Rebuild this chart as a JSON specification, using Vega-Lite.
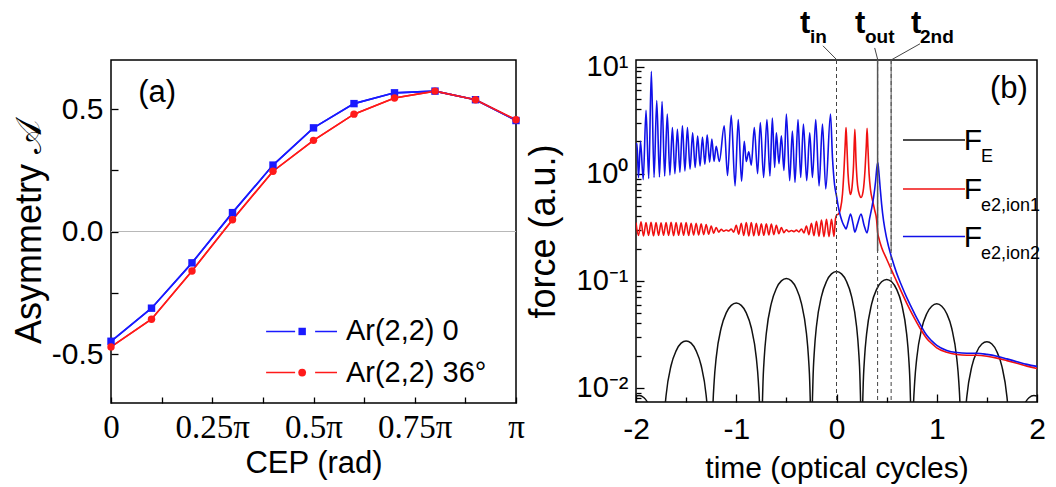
{
"$schema": "https://vega.github.io/schema/vega-lite/v6.json",
"background": "white",
"padding": {"left": 10, "top": 7, "right": 10, "bottom": 5},
"bounds": "flush",
"spacing": 120,
"config": {
  "font": "Liberation Sans",
  "view": {"stroke": "black", "strokeWidth": 1.5},
  "axis": {"grid": false, "domain": false, "tickColor": "black", "tickWidth": 1.3, "labelColor": "black", "titleColor": "black", "labelFont": "Liberation Sans", "titleFont": "Liberation Sans", "titleFontWeight": "normal", "labelOverlap": false, "labelFlush": false, "labelBound": false},
  "text": {"font": "Liberation Sans", "color": "black"}
},
"datasets": {
  "a": [
    {"cep": 0, "asym": -0.448, "s": "0"}, {"cep": 0.1, "asym": -0.313, "s": "0"}, {"cep": 0.2, "asym": -0.128, "s": "0"}, {"cep": 0.3, "asym": 0.077, "s": "0"}, {"cep": 0.4, "asym": 0.271, "s": "0"}, {"cep": 0.5, "asym": 0.423, "s": "0"}, {"cep": 0.6, "asym": 0.522, "s": "0"}, {"cep": 0.7, "asym": 0.566, "s": "0"}, {"cep": 0.8, "asym": 0.573, "s": "0"}, {"cep": 0.9, "asym": 0.538, "s": "0"}, {"cep": 1.0, "asym": 0.453, "s": "0"},
    {"cep": 0, "asym": -0.471, "s": "36"}, {"cep": 0.1, "asym": -0.358, "s": "36"}, {"cep": 0.2, "asym": -0.161, "s": "36"}, {"cep": 0.3, "asym": 0.048, "s": "36"}, {"cep": 0.4, "asym": 0.246, "s": "36"}, {"cep": 0.5, "asym": 0.372, "s": "36"}, {"cep": 0.6, "asym": 0.479, "s": "36"}, {"cep": 0.7, "asym": 0.545, "s": "36"}, {"cep": 0.8, "asym": 0.573, "s": "36"}, {"cep": 0.9, "asym": 0.538, "s": "36"}, {"cep": 1.0, "asym": 0.456, "s": "36"}
  ],
  "fe": [
    {"t": -2, "v": 0.0084}, {"t": -1.97, "v": 0.0085}, {"t": -1.92, "v": 0.0081}, {"t": -1.87, "v": 0.0069}, {"t": -1.82, "v": 0.005}, {"t": -1.77, "v": 0.0026}, {"t": -1.75, "v": 0.0003},
    {"t": -1.745, "v": 0.00085}, {"t": -1.735, "v": 0.0026}, {"t": -1.72, "v": 0.0051}, {"t": -1.7, "v": 0.0085}, {"t": -1.65, "v": 0.0162}, {"t": -1.6, "v": 0.0222}, {"t": -1.55, "v": 0.0262}, {"t": -1.5, "v": 0.0275}, {"t": -1.45, "v": 0.0262}, {"t": -1.4, "v": 0.0222}, {"t": -1.35, "v": 0.0162}, {"t": -1.3, "v": 0.0085}, {"t": -1.28, "v": 0.0051}, {"t": -1.265, "v": 0.0026}, {"t": -1.255, "v": 0.00085}, {"t": -1.25, "v": 0.0003},
    {"t": -1.245, "v": 0.0019}, {"t": -1.235, "v": 0.0058}, {"t": -1.22, "v": 0.0116}, {"t": -1.2, "v": 0.0192}, {"t": -1.15, "v": 0.0365}, {"t": -1.1, "v": 0.0502}, {"t": -1.05, "v": 0.059}, {"t": -1.0, "v": 0.062}, {"t": -0.95, "v": 0.059}, {"t": -0.9, "v": 0.0502}, {"t": -0.85, "v": 0.0365}, {"t": -0.8, "v": 0.0192}, {"t": -0.78, "v": 0.0116}, {"t": -0.765, "v": 0.0058}, {"t": -0.755, "v": 0.0019}, {"t": -0.75, "v": 0.0003},
    {"t": -0.745, "v": 0.0033}, {"t": -0.735, "v": 0.0099}, {"t": -0.72, "v": 0.0196}, {"t": -0.7, "v": 0.0324}, {"t": -0.65, "v": 0.0617}, {"t": -0.6, "v": 0.0849}, {"t": -0.55, "v": 0.0999}, {"t": -0.5, "v": 0.105}, {"t": -0.45, "v": 0.0999}, {"t": -0.4, "v": 0.0849}, {"t": -0.35, "v": 0.0617}, {"t": -0.3, "v": 0.0324}, {"t": -0.28, "v": 0.0196}, {"t": -0.265, "v": 0.0099}, {"t": -0.255, "v": 0.0033}, {"t": -0.25, "v": 0.0003},
    {"t": -0.245, "v": 0.0038}, {"t": -0.235, "v": 0.0115}, {"t": -0.22, "v": 0.0228}, {"t": -0.2, "v": 0.0377}, {"t": -0.15, "v": 0.0717}, {"t": -0.1, "v": 0.0987}, {"t": -0.05, "v": 0.116}, {"t": 0, "v": 0.122}, {"t": 0.05, "v": 0.116}, {"t": 0.1, "v": 0.0987}, {"t": 0.15, "v": 0.0717}, {"t": 0.2, "v": 0.0377}, {"t": 0.22, "v": 0.0228}, {"t": 0.235, "v": 0.0115}, {"t": 0.245, "v": 0.0038}, {"t": 0.25, "v": 0.0003},
    {"t": 0.255, "v": 0.0032}, {"t": 0.265, "v": 0.0097}, {"t": 0.28, "v": 0.0193}, {"t": 0.3, "v": 0.0318}, {"t": 0.35, "v": 0.0606}, {"t": 0.4, "v": 0.0833}, {"t": 0.45, "v": 0.098}, {"t": 0.5, "v": 0.103}, {"t": 0.55, "v": 0.098}, {"t": 0.6, "v": 0.0833}, {"t": 0.65, "v": 0.0606}, {"t": 0.7, "v": 0.0318}, {"t": 0.72, "v": 0.0193}, {"t": 0.735, "v": 0.0097}, {"t": 0.745, "v": 0.0032}, {"t": 0.75, "v": 0.0003},
    {"t": 0.755, "v": 0.0019}, {"t": 0.765, "v": 0.0057}, {"t": 0.78, "v": 0.0114}, {"t": 0.8, "v": 0.0188}, {"t": 0.85, "v": 0.0359}, {"t": 0.9, "v": 0.0493}, {"t": 0.95, "v": 0.058}, {"t": 1.0, "v": 0.061}, {"t": 1.05, "v": 0.058}, {"t": 1.1, "v": 0.0493}, {"t": 1.15, "v": 0.0359}, {"t": 1.2, "v": 0.0188}, {"t": 1.22, "v": 0.0114}, {"t": 1.235, "v": 0.0057}, {"t": 1.245, "v": 0.0019}, {"t": 1.25, "v": 0.0003},
    {"t": 1.255, "v": 0.00084}, {"t": 1.265, "v": 0.0025}, {"t": 1.28, "v": 0.005}, {"t": 1.3, "v": 0.0083}, {"t": 1.35, "v": 0.0159}, {"t": 1.4, "v": 0.0218}, {"t": 1.45, "v": 0.0257}, {"t": 1.5, "v": 0.027}, {"t": 1.55, "v": 0.0257}, {"t": 1.6, "v": 0.0218}, {"t": 1.65, "v": 0.0159}, {"t": 1.7, "v": 0.0083}, {"t": 1.72, "v": 0.005}, {"t": 1.735, "v": 0.0025}, {"t": 1.745, "v": 0.00084}, {"t": 1.75, "v": 0.0003},
    {"t": 1.77, "v": 0.0026}, {"t": 1.82, "v": 0.005}, {"t": 1.87, "v": 0.0069}, {"t": 1.92, "v": 0.0081}, {"t": 1.97, "v": 0.0085}, {"t": 2.0, "v": 0.0084}
  ],
  "f1": [
    {"t": -2, "v": 0.35}, {"t": -1.975, "v": 0.265}, {"t": -1.95, "v": 0.355}, {"t": -1.925, "v": 0.262}, {"t": -1.9, "v": 0.35}, {"t": -1.875, "v": 0.265}, {"t": -1.85, "v": 0.352}, {"t": -1.825, "v": 0.263}, {"t": -1.8, "v": 0.35}, {"t": -1.775, "v": 0.265},
    {"t": -1.75, "v": 0.348}, {"t": -1.725, "v": 0.266}, {"t": -1.7, "v": 0.35}, {"t": -1.675, "v": 0.265}, {"t": -1.65, "v": 0.352}, {"t": -1.625, "v": 0.264}, {"t": -1.6, "v": 0.35}, {"t": -1.575, "v": 0.266}, {"t": -1.55, "v": 0.348}, {"t": -1.525, "v": 0.266},
    {"t": -1.5, "v": 0.35}, {"t": -1.475, "v": 0.265}, {"t": -1.45, "v": 0.345}, {"t": -1.425, "v": 0.268}, {"t": -1.4, "v": 0.345}, {"t": -1.375, "v": 0.268}, {"t": -1.35, "v": 0.34}, {"t": -1.325, "v": 0.27}, {"t": -1.3, "v": 0.335}, {"t": -1.275, "v": 0.272},
    {"t": -1.25, "v": 0.325}, {"t": -1.225, "v": 0.278}, {"t": -1.2, "v": 0.315}, {"t": -1.175, "v": 0.285}, {"t": -1.15, "v": 0.302}, {"t": -1.125, "v": 0.29}, {"t": -1.1, "v": 0.298}, {"t": -1.075, "v": 0.292}, {"t": -1.05, "v": 0.305}, {"t": -1.025, "v": 0.285},
    {"t": -1.0, "v": 0.33}, {"t": -0.975, "v": 0.272}, {"t": -0.95, "v": 0.345}, {"t": -0.925, "v": 0.265}, {"t": -0.9, "v": 0.35}, {"t": -0.875, "v": 0.262}, {"t": -0.85, "v": 0.35}, {"t": -0.825, "v": 0.263}, {"t": -0.8, "v": 0.345}, {"t": -0.775, "v": 0.265},
    {"t": -0.75, "v": 0.34}, {"t": -0.725, "v": 0.266}, {"t": -0.7, "v": 0.34}, {"t": -0.675, "v": 0.268}, {"t": -0.65, "v": 0.338}, {"t": -0.625, "v": 0.27}, {"t": -0.6, "v": 0.33}, {"t": -0.575, "v": 0.275}, {"t": -0.55, "v": 0.315}, {"t": -0.525, "v": 0.282},
    {"t": -0.5, "v": 0.3}, {"t": -0.475, "v": 0.287}, {"t": -0.45, "v": 0.295}, {"t": -0.425, "v": 0.288}, {"t": -0.4, "v": 0.297}, {"t": -0.375, "v": 0.286}, {"t": -0.35, "v": 0.305}, {"t": -0.325, "v": 0.28}, {"t": -0.3, "v": 0.325}, {"t": -0.275, "v": 0.27},
    {"t": -0.25, "v": 0.345}, {"t": -0.225, "v": 0.263}, {"t": -0.2, "v": 0.36}, {"t": -0.175, "v": 0.26}, {"t": -0.15, "v": 0.37}, {"t": -0.125, "v": 0.258}, {"t": -0.1, "v": 0.375}, {"t": -0.075, "v": 0.258}, {"t": -0.05, "v": 0.375}, {"t": -0.025, "v": 0.26},
    {"t": -0.01, "v": 0.38}, {"t": 0.0, "v": 0.41}, {"t": 0.02, "v": 0.42}, {"t": 0.04, "v": 0.47}, {"t": 0.06, "v": 0.65}, {"t": 0.075, "v": 1.1}, {"t": 0.088, "v": 2.0}, {"t": 0.095, "v": 2.7}, {"t": 0.102, "v": 2.0}, {"t": 0.115, "v": 1.0},
    {"t": 0.13, "v": 0.7}, {"t": 0.14, "v": 0.64}, {"t": 0.155, "v": 0.75}, {"t": 0.17, "v": 1.2}, {"t": 0.183, "v": 2.6}, {"t": 0.195, "v": 1.3}, {"t": 0.21, "v": 0.78}, {"t": 0.23, "v": 0.63}, {"t": 0.245, "v": 0.6}, {"t": 0.265, "v": 0.68},
    {"t": 0.285, "v": 1.1}, {"t": 0.297, "v": 1.8}, {"t": 0.305, "v": 2.65}, {"t": 0.313, "v": 1.8}, {"t": 0.325, "v": 1.0}, {"t": 0.34, "v": 0.7}, {"t": 0.36, "v": 0.56}, {"t": 0.38, "v": 0.46}, {"t": 0.4, "v": 0.37}, {"t": 0.41, "v": 0.285},
    {"t": 0.425, "v": 0.245}, {"t": 0.45, "v": 0.205}, {"t": 0.5, "v": 0.16}, {"t": 0.55, "v": 0.125}, {"t": 0.6, "v": 0.099}, {"t": 0.65, "v": 0.078}, {"t": 0.7, "v": 0.062}, {"t": 0.75, "v": 0.05}, {"t": 0.8, "v": 0.041}, {"t": 0.85, "v": 0.034},
    {"t": 0.9, "v": 0.029}, {"t": 0.95, "v": 0.026}, {"t": 1.0, "v": 0.0237}, {"t": 1.1, "v": 0.0215}, {"t": 1.2, "v": 0.0205}, {"t": 1.3, "v": 0.0202}, {"t": 1.4, "v": 0.0202}, {"t": 1.5, "v": 0.0198}, {"t": 1.6, "v": 0.019}, {"t": 1.7, "v": 0.018},
    {"t": 1.8, "v": 0.017}, {"t": 1.9, "v": 0.016}, {"t": 2.0, "v": 0.0152}
  ],
  "f2": [
    {"t": -2, "v": 1.9}, {"t": -1.99, "v": 1.9}, {"t": -1.975, "v": 0.92}, {"t": -1.955, "v": 2.0}, {"t": -1.928, "v": 0.88}, {"t": -1.9, "v": 3.9}, {"t": -1.873, "v": 0.9}, {"t": -1.847, "v": 9.0}, {"t": -1.82, "v": 0.92}, {"t": -1.793, "v": 4.8},
    {"t": -1.766, "v": 0.93}, {"t": -1.74, "v": 4.7}, {"t": -1.714, "v": 0.95}, {"t": -1.688, "v": 3.6}, {"t": -1.662, "v": 0.97}, {"t": -1.637, "v": 2.7}, {"t": -1.612, "v": 1.0}, {"t": -1.587, "v": 2.6}, {"t": -1.562, "v": 1.03}, {"t": -1.537, "v": 2.8},
    {"t": -1.512, "v": 1.06}, {"t": -1.487, "v": 2.7}, {"t": -1.461, "v": 1.1}, {"t": -1.435, "v": 2.4}, {"t": -1.41, "v": 1.14}, {"t": -1.385, "v": 2.25}, {"t": -1.361, "v": 1.18}, {"t": -1.337, "v": 2.2}, {"t": -1.313, "v": 1.22}, {"t": -1.29, "v": 2.3},
    {"t": -1.266, "v": 1.28}, {"t": -1.243, "v": 2.1}, {"t": -1.222, "v": 1.3}, {"t": -1.2, "v": 1.8}, {"t": -1.169, "v": 1.3}, {"t": -1.12, "v": 2.8}, {"t": -1.087, "v": 0.96}, {"t": -1.05, "v": 3.5}, {"t": -1.012, "v": 0.77}, {"t": -0.98, "v": 3.2},
    {"t": -0.947, "v": 0.85}, {"t": -0.92, "v": 2.0}, {"t": -0.9, "v": 1.3}, {"t": -0.875, "v": 1.6}, {"t": -0.85, "v": 1.2}, {"t": -0.82, "v": 2.7}, {"t": -0.787, "v": 1.0}, {"t": -0.76, "v": 3.0}, {"t": -0.727, "v": 0.92}, {"t": -0.694, "v": 3.2},
    {"t": -0.664, "v": 0.95}, {"t": -0.64, "v": 3.3}, {"t": -0.617, "v": 1.14}, {"t": -0.6, "v": 2.4}, {"t": -0.574, "v": 1.24}, {"t": -0.55, "v": 2.26}, {"t": -0.524, "v": 1.07}, {"t": -0.5, "v": 3.6}, {"t": -0.467, "v": 0.86}, {"t": -0.44, "v": 2.5},
    {"t": -0.414, "v": 0.83}, {"t": -0.384, "v": 3.2}, {"t": -0.357, "v": 0.92}, {"t": -0.33, "v": 2.9}, {"t": -0.297, "v": 0.86}, {"t": -0.267, "v": 2.4}, {"t": -0.24, "v": 0.92}, {"t": -0.207, "v": 3.2}, {"t": -0.174, "v": 0.77}, {"t": -0.14, "v": 2.9},
    {"t": -0.107, "v": 0.72}, {"t": -0.06, "v": 3.6}, {"t": -0.04, "v": 1.4}, {"t": -0.02, "v": 0.8}, {"t": 0.0, "v": 0.62}, {"t": 0.02, "v": 0.48}, {"t": 0.04, "v": 0.4}, {"t": 0.06, "v": 0.35}, {"t": 0.08, "v": 0.32}, {"t": 0.095, "v": 0.305},
    {"t": 0.115, "v": 0.35}, {"t": 0.14, "v": 0.42}, {"t": 0.165, "v": 0.34}, {"t": 0.183, "v": 0.285}, {"t": 0.21, "v": 0.34}, {"t": 0.245, "v": 0.42}, {"t": 0.275, "v": 0.33}, {"t": 0.305, "v": 0.28}, {"t": 0.33, "v": 0.38}, {"t": 0.35, "v": 0.47},
    {"t": 0.37, "v": 0.6}, {"t": 0.39, "v": 0.85}, {"t": 0.403, "v": 1.15}, {"t": 0.412, "v": 1.27}, {"t": 0.42, "v": 1.1}, {"t": 0.435, "v": 0.75}, {"t": 0.45, "v": 0.52}, {"t": 0.47, "v": 0.36}, {"t": 0.5, "v": 0.25}, {"t": 0.55, "v": 0.165},
    {"t": 0.6, "v": 0.118}, {"t": 0.65, "v": 0.09}, {"t": 0.7, "v": 0.07}, {"t": 0.75, "v": 0.056}, {"t": 0.8, "v": 0.045}, {"t": 0.85, "v": 0.037}, {"t": 0.9, "v": 0.031}, {"t": 0.95, "v": 0.0275}, {"t": 1.0, "v": 0.025}, {"t": 1.1, "v": 0.0224},
    {"t": 1.2, "v": 0.0214}, {"t": 1.3, "v": 0.0211}, {"t": 1.4, "v": 0.0211}, {"t": 1.5, "v": 0.0206}, {"t": 1.6, "v": 0.0198}, {"t": 1.7, "v": 0.0187}, {"t": 1.8, "v": 0.0176}, {"t": 1.9, "v": 0.0166}, {"t": 2.0, "v": 0.0159}
  ],
  "ev": [{"event": "in", "t": 0.0}, {"event": "out", "t": 0.41}, {"event": "2nd", "t": 0.545}]
},
"hconcat": [
  {
    "width": 405, "height": 343,
    "layer": [
      {"data": {"name": "a"}, "mark": {"type": "line", "strokeWidth": 1.6},
       "encoding": {
         "x": {"field": "cep", "type": "quantitative", "scale": {"domain": [0, 1], "nice": false, "zero": false},
               "axis": {"title": "CEP (rad)", "titleFontSize": 31, "titlePadding": 4, "values": [0, 0.125, 0.25, 0.375, 0.5, 0.625, 0.75, 0.875, 1], "labelExpr": "datum.value === 0 ? '0' : datum.value === 0.25 ? '0.25π' : datum.value === 0.5 ? '0.5π' : datum.value === 0.75 ? '0.75π' : datum.value === 1 ? 'π' : ''", "labelFont": "Liberation Serif", "labelFontSize": 33, "tickSize": -6, "labelPadding": 14}},
         "y": {"field": "asym", "type": "quantitative", "scale": {"domain": [-0.7, 0.7], "nice": false, "zero": false},
               "axis": {"title": "Asymmetry 𝒜", "titleFontSize": 36, "titlePadding": 3, "values": [-0.5, -0.25, 0, 0.25, 0.5], "labelExpr": "datum.value === 0.5 ? '0.5' : datum.value === 0 ? '0.0' : datum.value === -0.5 ? '-0.5' : ''", "labelFontSize": 30, "tickSize": -7, "labelPadding": 15}},
         "color": {"field": "s", "type": "nominal", "scale": {"domain": ["0", "36"], "range": ["#1a1aff", "#ff1a1a"]}, "legend": null}
       }},
      {"data": {"values": [{}]}, "mark": {"type": "rule", "color": "#b8b8b8", "strokeWidth": 1}, "encoding": {"y": {"datum": 0}}},
      {"data": {"name": "a"}, "mark": {"type": "line", "strokeWidth": 1.6},
       "encoding": {
         "x": {"field": "cep", "type": "quantitative"},
         "y": {"field": "asym", "type": "quantitative"},
         "color": {"field": "s", "type": "nominal", "legend": null}
       }},
      {"data": {"name": "a"}, "mark": {"type": "point", "filled": true, "size": 55, "opacity": 1},
       "encoding": {
         "x": {"field": "cep", "type": "quantitative"},
         "y": {"field": "asym", "type": "quantitative"},
         "color": {"field": "s", "type": "nominal", "legend": null},
         "shape": {"field": "s", "type": "nominal", "scale": {"domain": ["0", "36"], "range": ["square", "circle"]}, "legend": null}
       }},
      {"data": {"values": [{}]}, "mark": {"type": "rule", "color": "#1a1aff", "strokeWidth": 1.5, "strokeDash": [29, 20, 30]},
       "encoding": {"x": {"datum": 0.383}, "x2": {"datum": 0.558}, "y": {"datum": -0.408}}},
      {"data": {"values": [{}]}, "mark": {"type": "point", "shape": "square", "filled": true, "size": 55, "opacity": 1, "color": "#1a1aff"},
       "encoding": {"x": {"datum": 0.472}, "y": {"datum": -0.408}}},
      {"data": {"values": [{}]}, "mark": {"type": "text", "align": "left", "baseline": "middle", "fontSize": 29, "text": "Ar(2,2) 0"},
       "encoding": {"x": {"datum": 0.58}, "y": {"datum": -0.408}}},
      {"data": {"values": [{}]}, "mark": {"type": "rule", "color": "#ff1a1a", "strokeWidth": 1.5, "strokeDash": [29, 20, 30]},
       "encoding": {"x": {"datum": 0.383}, "x2": {"datum": 0.558}, "y": {"datum": -0.576}}},
      {"data": {"values": [{}]}, "mark": {"type": "point", "shape": "circle", "filled": true, "size": 60, "opacity": 1, "color": "#ff1a1a"},
       "encoding": {"x": {"datum": 0.472}, "y": {"datum": -0.576}}},
      {"data": {"values": [{}]}, "mark": {"type": "text", "align": "left", "baseline": "middle", "fontSize": 29, "text": "Ar(2,2) 36°"},
       "encoding": {"x": {"datum": 0.58}, "y": {"datum": -0.576}}},
      {"data": {"values": [{}]}, "mark": {"type": "text", "align": "left", "baseline": "middle", "fontSize": 31, "text": "(a)"},
       "encoding": {"x": {"datum": 0.067}, "y": {"datum": 0.567}}}
    ]
  },
  {
    "width": 401, "height": 342,
    "layer": [
      {"data": {"name": "fe"}, "mark": {"type": "line", "color": "#111111", "strokeWidth": 1.5, "interpolate": "monotone", "clip": true},
       "encoding": {
         "x": {"field": "t", "type": "quantitative", "scale": {"domain": [-2, 2], "nice": false, "zero": false},
               "axis": {"title": "time (optical cycles)", "titleFontSize": 30, "titlePadding": 6, "values": [-2, -1.5, -1, -0.5, 0, 0.5, 1, 1.5, 2], "labelExpr": "datum.value % 1 !== 0 ? '' : (datum.value < 0 ? '-' + abs(datum.value) : '' + datum.value)", "labelFontSize": 30, "tickSize": {"condition": {"test": "datum.value % 1 !== 0", "value": -5}, "value": -8}, "labelPadding": 20}},
         "y": {"field": "v", "type": "quantitative", "scale": {"type": "log", "domain": [0.0074, 11.5], "nice": false},
               "axis": {"title": "force (a.u.)", "titleFontSize": 36, "titlePadding": 14, "values": [0.008, 0.009, 0.01, 0.02, 0.03, 0.04, 0.05, 0.06, 0.07, 0.08, 0.09, 0.1, 0.2, 0.3, 0.4, 0.5, 0.6, 0.7, 0.8, 0.9, 1, 2, 3, 4, 5, 6, 7, 8, 9, 10], "labelExpr": "datum.value === 10 ? '10¹' : datum.value === 1 ? '10⁰' : datum.value === 0.1 ? '10⁻¹' : datum.value === 0.01 ? '10⁻²' : ''", "labelFontSize": 29, "tickSize": {"condition": {"test": "indexof([0.01, 0.1, 1, 10], datum.value) >= 0", "value": -8}, "value": -5}, "labelPadding": 16}}
       }},
      {"data": {"name": "f1"}, "mark": {"type": "line", "color": "#f01010", "strokeWidth": 1.6, "interpolate": "monotone", "clip": true},
       "encoding": {"x": {"field": "t", "type": "quantitative"}, "y": {"field": "v", "type": "quantitative"}}},
      {"data": {"name": "f2"}, "mark": {"type": "line", "color": "#1010e8", "strokeWidth": 1.6, "interpolate": "monotone", "clip": true},
       "encoding": {"x": {"field": "t", "type": "quantitative"}, "y": {"field": "v", "type": "quantitative"}}},
      {"data": {"name": "ev"}, "mark": {"type": "rule", "color": "#444444", "strokeWidth": 1, "strokeDash": [4, 3]},
       "encoding": {"x": {"field": "t", "type": "quantitative"}}},
      {"data": {"values": [{}]}, "mark": {"type": "rule", "color": "#555555", "strokeWidth": 1.5},
       "encoding": {"x": {"datum": 0.41}, "y": {"datum": 11.5}, "y2": {"datum": 0.19}}},
      {"data": {"values": [{}]}, "mark": {"type": "rule", "color": "#555555", "strokeWidth": 1},
       "encoding": {"x": {"datum": 0.545}, "y": {"datum": 11.5}, "y2": {"datum": 0.19}}},
      {"data": {"values": [{}]}, "mark": {"type": "rule", "color": "#444444", "strokeWidth": 1},
       "encoding": {"x": {"datum": -0.135}, "x2": {"datum": 0.005}, "y": {"datum": 15.6}, "y2": {"datum": 11.5}}},
      {"data": {"values": [{}]}, "mark": {"type": "rule", "color": "#444444", "strokeWidth": 1},
       "encoding": {"x": {"datum": 0.381}, "x2": {"datum": 0.412}, "y": {"datum": 14.9}, "y2": {"datum": 11.5}}},
      {"data": {"values": [{}]}, "mark": {"type": "rule", "color": "#444444", "strokeWidth": 1},
       "encoding": {"x": {"datum": 0.833}, "x2": {"datum": 0.545}, "y": {"datum": 16.3}, "y2": {"datum": 11.5}}},
      {"data": {"values": [{}]}, "mark": {"type": "text", "align": "left", "baseline": "alphabetic", "fontSize": 31, "fontWeight": "bold", "text": "t"},
       "encoding": {"x": {"datum": -0.364}, "y": {"datum": 20.6}}},
      {"data": {"values": [{}]}, "mark": {"type": "text", "align": "left", "baseline": "alphabetic", "fontSize": 19, "fontWeight": "bold", "text": "in"},
       "encoding": {"x": {"datum": -0.265}, "y": {"datum": 16.6}}},
      {"data": {"values": [{}]}, "mark": {"type": "text", "align": "left", "baseline": "alphabetic", "fontSize": 31, "fontWeight": "bold", "text": "t"},
       "encoding": {"x": {"datum": 0.185}, "y": {"datum": 20.6}}},
      {"data": {"values": [{}]}, "mark": {"type": "text", "align": "left", "baseline": "alphabetic", "fontSize": 19, "fontWeight": "bold", "text": "out"},
       "encoding": {"x": {"datum": 0.284}, "y": {"datum": 16.6}}},
      {"data": {"values": [{}]}, "mark": {"type": "text", "align": "left", "baseline": "alphabetic", "fontSize": 31, "fontWeight": "bold", "text": "t"},
       "encoding": {"x": {"datum": 0.743}, "y": {"datum": 20.6}}},
      {"data": {"values": [{}]}, "mark": {"type": "text", "align": "left", "baseline": "alphabetic", "fontSize": 19, "fontWeight": "bold", "text": "2nd"},
       "encoding": {"x": {"datum": 0.833}, "y": {"datum": 16.6}}},
      {"data": {"values": [{}]}, "mark": {"type": "rule", "color": "#111111", "strokeWidth": 1.6},
       "encoding": {"x": {"datum": 0.663}, "x2": {"datum": 1.282}, "y": {"datum": 2.06}}},
      {"data": {"values": [{}]}, "mark": {"type": "rule", "color": "#f01010", "strokeWidth": 1.6},
       "encoding": {"x": {"datum": 0.663}, "x2": {"datum": 1.282}, "y": {"datum": 0.72}}},
      {"data": {"values": [{}]}, "mark": {"type": "rule", "color": "#1010e8", "strokeWidth": 1.6},
       "encoding": {"x": {"datum": 0.663}, "x2": {"datum": 1.282}, "y": {"datum": 0.259}}},
      {"data": {"values": [{}]}, "mark": {"type": "text", "align": "left", "baseline": "alphabetic", "fontSize": 30, "dy": 10, "text": "F"},
       "encoding": {"x": {"datum": 1.27}, "y": {"datum": 2.06}}},
      {"data": {"values": [{}]}, "mark": {"type": "text", "align": "left", "baseline": "alphabetic", "fontSize": 18, "dy": 22, "text": "E"},
       "encoding": {"x": {"datum": 1.441}, "y": {"datum": 2.06}}},
      {"data": {"values": [{}]}, "mark": {"type": "text", "align": "left", "baseline": "alphabetic", "fontSize": 30, "dy": 10, "text": "F"},
       "encoding": {"x": {"datum": 1.27}, "y": {"datum": 0.72}}},
      {"data": {"values": [{}]}, "mark": {"type": "text", "align": "left", "baseline": "alphabetic", "fontSize": 18, "dy": 22, "text": "e2,ion1"},
       "encoding": {"x": {"datum": 1.441}, "y": {"datum": 0.72}}},
      {"data": {"values": [{}]}, "mark": {"type": "text", "align": "left", "baseline": "alphabetic", "fontSize": 30, "dy": 10, "text": "F"},
       "encoding": {"x": {"datum": 1.27}, "y": {"datum": 0.259}}},
      {"data": {"values": [{}]}, "mark": {"type": "text", "align": "left", "baseline": "alphabetic", "fontSize": 18, "dy": 22, "text": "e2,ion2"},
       "encoding": {"x": {"datum": 1.441}, "y": {"datum": 0.259}}},
      {"data": {"values": [{}]}, "mark": {"type": "text", "align": "left", "baseline": "middle", "fontSize": 31, "text": "(b)"},
       "encoding": {"x": {"datum": 1.531}, "y": {"datum": 6.13}}}
    ]
  }
]
}
